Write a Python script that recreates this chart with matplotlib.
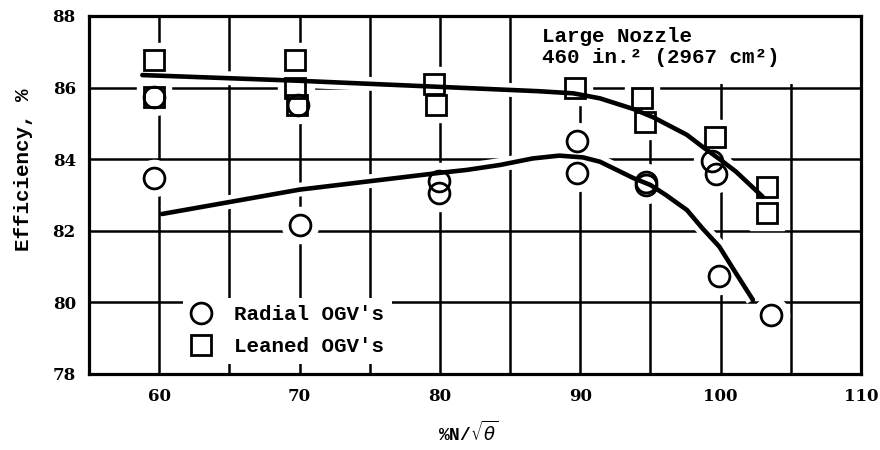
import matplotlib
matplotlib.use("Agg")
import matplotlib.pyplot as plt
from matplotlib.lines import Line2D
from matplotlib.patches import Rectangle

# test points (%N/sqrt(theta), efficiency %)
radial_x = [59.6, 59.6, 69.9, 70.0, 79.9, 79.9, 89.8, 89.8, 94.7, 94.7, 99.4, 99.7, 99.9, 103.6]
radial_y = [85.75, 83.47, 85.5, 82.15, 83.4, 83.05, 84.5, 83.62, 83.37, 83.28, 83.95, 83.6, 80.75, 79.65]

leaned_x = [59.6, 59.6, 69.7, 69.7, 69.8, 79.6, 79.7, 89.6, 94.4, 94.6, 99.6, 103.3, 103.3]
leaned_y = [86.77, 85.74, 86.77, 86.0, 85.5, 86.1, 85.5, 86.0, 85.7, 85.04, 84.62, 83.22, 82.5]

# hand-faired curves through the data
radial_fit_x = [60.2, 70, 80, 81.9, 84.3, 86.6, 88.5, 90.2, 91.4, 92.6, 93.8, 95.0,
                96.1, 97.6, 98.7, 99.9, 101.1, 102.3]
radial_fit_y = [82.47, 83.15, 83.62, 83.7, 83.84, 84.02, 84.1, 84.05, 83.93, 83.7, 83.47, 83.28,
                83.0, 82.58, 82.07, 81.56, 80.81, 80.07]

leaned_fit_x = [58.8, 70, 80, 87, 89.5, 91.4, 93.8, 95.2, 97.6, 98.7, 100, 101.1, 103.0]
leaned_fit_y = [86.35, 86.19, 86.02, 85.9, 85.84, 85.7, 85.4, 85.17, 84.68, 84.35, 83.98, 83.65, 82.95]

x_ticks = [60, 70, 80, 90, 100, 110]
x_grid = [65, 75, 85, 95, 105]
y_ticks = [78, 80, 82, 84, 86, 88]

mono = {"family": ["Liberation Mono", "DejaVu Sans Mono"], "weight": "bold", "size": 15}

fig = plt.figure(figsize=(8.8, 4.5), dpi=100)
ax = fig.add_axes([89 / 880, 76 / 450, 772 / 880, 358 / 450])
ax.set_xlim(55, 110)
ax.set_ylim(78, 88)
ax.set_xticks(x_ticks)
ax.set_xticks(x_grid, minor=True)
ax.set_yticks(y_ticks)
ax.set_axisbelow(True)
ax.grid(which="both", color="black", lw=1.8)
for s in ax.spines.values():
    s.set_linewidth(2.3)
ax.tick_params(which="both", length=0)
ax.tick_params(axis="x", pad=10)
ax.tick_params(axis="y", pad=9.5)
for lab in ax.get_xticklabels() + ax.get_yticklabels():
    lab.set_fontfamily("DejaVu Serif")
    lab.set_fontweight("bold")
    lab.set_fontsize(12)

# white halos so the grid breaks around curves and symbols
for fx, fy in [(radial_fit_x, radial_fit_y), (leaned_fit_x, leaned_fit_y)]:
    ax.plot(fx, fy, color="white", lw=10, solid_capstyle="butt", zorder=1)
ax.plot(radial_x, radial_y, "o", ms=26, color="white", zorder=1.5)
ax.plot(leaned_x, leaned_y, "s", ms=25, color="white", zorder=1.5)

for fx, fy in [(radial_fit_x, radial_fit_y), (leaned_fit_x, leaned_fit_y)]:
    ax.plot(fx, fy, color="black", lw=3.3, solid_capstyle="round",
            solid_joinstyle="round", zorder=3)
ax.plot(radial_x, radial_y, "o", ms=15, mfc="none", mec="black", mew=2, zorder=4)
ax.plot(leaned_x, leaned_y, "s", ms=14, mfc="none", mec="black", mew=2, zorder=4)

# nozzle note
ax.add_patch(Rectangle((0.558, 0.81), 0.442, 0.19, transform=ax.transAxes,
                       facecolor="white", edgecolor="none", zorder=1.6))
ax.text(0.587, 0.968, "Large Nozzle\n460 in.² (2967 cm²)", transform=ax.transAxes,
        ha="left", va="top", linespacing=1.1, fontdict=mono, zorder=5)

handles = [
    Line2D([], [], ls="none", marker="o", ms=15, mfc="none", mec="black", mew=2),
    Line2D([], [], ls="none", marker="s", ms=14, mfc="none", mec="black", mew=2),
]
leg = ax.legend(handles, ["Radial OGV's", "Leaned OGV's"], loc="lower left",
                bbox_to_anchor=(0.108, 0.0), frameon=True, framealpha=1,
                edgecolor="none", fancybox=False, handlelength=1.0,
                handletextpad=1.13, labelspacing=0.64, borderpad=0.35,
                prop={"family": "Liberation Mono", "weight": "bold", "size": 15})
leg.set_zorder(5)

ax.set_ylabel("Efficiency, %", fontdict=mono)
ax.yaxis.set_label_coords(-0.073, 0.57)
ax.set_xlabel(r"%N/$\sqrt{\theta}$", fontdict={**mono, "size": 13})
ax.xaxis.set_label_coords(0.491, -0.13)

fig.savefig("out.png", dpi=100, facecolor="white")
